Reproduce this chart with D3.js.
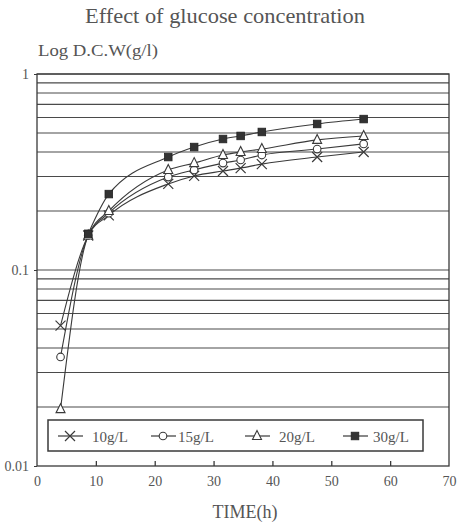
<!DOCTYPE html>
<html>
<head>
<meta charset="utf-8">
<script src="https://cdn.jsdelivr.net/npm/d3@7/dist/d3.min.js"></script>
<style>
  html, body { margin: 0; padding: 0; background: #fff; }
  svg { display: block; }
  text { font-family: "Liberation Serif", "DejaVu Serif", serif; fill: #555; }
</style>
</head>
<body>
<div id="chart"></div>
<script>
// sampling times (h)
var hours = [4, 8.7, 12.2, 22.3, 26.7, 31.6, 34.6, 38.2, 47.6, 55.5];

// dry cell weight (g/l) per glucose concentration
var dcw10 = [0.052, 0.15, 0.19, 0.275, 0.302, 0.320, 0.331, 0.347, 0.377, 0.400];
var dcw15 = [0.036, 0.15, 0.195, 0.298, 0.324, 0.351, 0.364, 0.386, 0.414, 0.440];
var dcw20 = [0.0195, 0.15, 0.20, 0.324, 0.351, 0.386, 0.400, 0.414, 0.461, 0.483];
var dcw30 = [null, 0.153, 0.244, 0.377, 0.424, 0.466, 0.483, 0.506, 0.556, 0.589];

var seriesNames = ["10g/L", "15g/L", "20g/L", "30g/L"];
var xTicks = [0, 10, 20, 30, 40, 50, 60, 70];
var yTicks = [1, 0.1, 0.01];

var W = 457, H = 526;
var svg = d3.select('#chart').append('svg').attr('width', W).attr('height', H);

var x = d3.scaleLinear().domain([0, 70]).range([37, 449]);
var y = d3.scaleLog().domain([0.01, 1]).range([466, 74]);

var ink = "#3a3a3a";

// horizontal grid lines (log minor steps)
var grid = [];
[0.01, 0.1].forEach(function (dec) {
    for (var k = 2; k <= 10; k++) grid.push(dec * k);
});
svg.append("g")
    .selectAll("line")
    .data(grid)
    .enter().append("line")
    .attr("x1", x(0)).attr("x2", x(70))
    .attr("y1", function (d) { return y(d); })
    .attr("y2", function (d) { return y(d); })
    .attr("stroke", "#4a4a4a")
    .attr("stroke-width", 1.2);

// frame
svg.append("rect")
    .attr("x", x(0)).attr("y", y(1))
    .attr("width", x(70) - x(0)).attr("height", y(0.01) - y(1))
    .attr("fill", "none").attr("stroke", ink).attr("stroke-width", 1.3);

// x axis
var xAxis = svg.append("g")
    .attr("transform", "translate(0," + y(0.01) + ")")
    .call(d3.axisBottom(x).tickValues(xTicks).tickSizeInner(-5).tickSizeOuter(0).tickPadding(10));
xAxis.select(".domain").remove();
xAxis.selectAll(".tick line").attr("stroke", ink).attr("stroke-width", 1.3)
    .filter(function (d) { return d === 0 || d === 70; }).remove();
xAxis.selectAll(".tick text")
    .attr("font-family", "Liberation Serif, serif").attr("font-size", 14).attr("fill", "#666");

// y axis
var yAxis = svg.append("g")
    .attr("transform", "translate(" + x(0) + ",0)")
    .call(d3.axisLeft(y).tickValues(yTicks).tickFormat(d3.format("")).tickSize(3).tickPadding(5));
yAxis.select(".domain").remove();
yAxis.selectAll(".tick line").attr("stroke", ink);
yAxis.selectAll(".tick text")
    .attr("font-family", "Liberation Serif, serif").attr("font-size", 14).attr("fill", "#666");

// titles
svg.append("text")
    .attr("x", 225).attr("y", 23)
    .attr("text-anchor", "middle")
    .attr("font-size", 21)
    .attr("textLength", 280).attr("lengthAdjust", "spacingAndGlyphs")
    .text("Effect of glucose concentration");

svg.append("text")
    .attr("x", 38).attr("y", 56)
    .attr("font-size", 17)
    .attr("textLength", 120).attr("lengthAdjust", "spacingAndGlyphs")
    .text("Log D.C.W(g/l)");

svg.append("text")
    .attr("x", 245).attr("y", 518)
    .attr("text-anchor", "middle")
    .attr("font-size", 18)
    .text("TIME(h)");

// series
var series = [dcw10, dcw15, dcw20, dcw30].map(function (vals, i) {
    return {
        name: seriesNames[i],
        points: hours.map(function (h, j) { return { t: h, v: vals[j] }; })
            .filter(function (p) { return p.v != null; })
    };
});

var line = d3.line()
    .x(function (d) { return x(d.t); })
    .y(function (d) { return y(d.v); })
    .curve(d3.curveMonotoneX);

svg.append("g")
    .selectAll("path")
    .data(series)
    .enter().append("path")
    .attr("d", function (d) { return line(d.points); })
    .attr("fill", "none")
    .attr("stroke", ink)
    .attr("stroke-width", 1.1);

function drawMarker(g, i) {
    if (i === 0) {
        g.append("path").attr("d", "M-5,-5L5,5M-5,5L5,-5")
            .attr("stroke", ink).attr("stroke-width", 1.2).attr("fill", "none");
    } else if (i === 1) {
        g.append("circle").attr("r", 3.8)
            .attr("fill", "#fff").attr("stroke", ink).attr("stroke-width", 1.1);
    } else if (i === 2) {
        g.append("path").attr("d", "M0,-5.5L4.5,3.5L-4.5,3.5Z")
            .attr("fill", "#fff").attr("stroke", ink).attr("stroke-width", 1.1);
    } else {
        g.append("rect").attr("x", -3.8).attr("y", -3.8).attr("width", 7.6).attr("height", 7.6)
            .attr("fill", "#333").attr("stroke", "#222").attr("stroke-width", 0.8);
    }
}

series.forEach(function (s, i) {
    s.points.forEach(function (p) {
        var g = svg.append("g").attr("transform", "translate(" + x(p.t) + "," + y(p.v) + ")");
        drawMarker(g, i);
    });
});

// legend
var legend = svg.append("g");
legend.append("rect")
    .attr("x", 48).attr("y", 420)
    .attr("width", 375).attr("height", 31)
    .attr("fill", "#fff").attr("stroke", ink).attr("stroke-width", 1.5);

var legendX = [70, 163, 257, 355];
var item = legend.selectAll("g.item")
    .data(seriesNames)
    .enter().append("g")
    .attr("class", "item")
    .attr("transform", function (d, i) { return "translate(" + legendX[i] + ",436)"; });

item.append("line")
    .attr("x1", -12).attr("x2", 13)
    .attr("stroke", ink).attr("stroke-width", 1.2);
item.each(function (d, i) { drawMarker(d3.select(this), i); });
item.append("text")
    .attr("x", function (d, i) { return i === 0 ? 22 : i === 1 ? 15 : i === 2 ? 22 : 18; })
    .attr("y", 5.5)
    .attr("font-size", 15)
    .text(function (d) { return d; });
</script>
</body>
</html>
